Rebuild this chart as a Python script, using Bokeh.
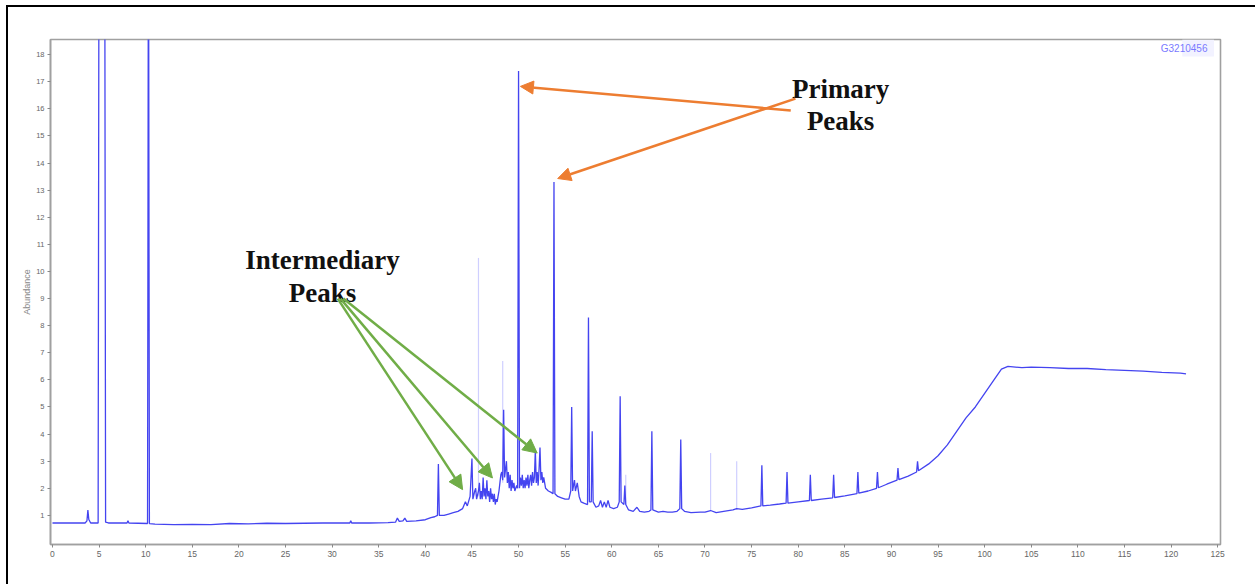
from bokeh.plotting import figure
from bokeh.models import Range1d, Label, Arrow, NormalHead, BoxAnnotation, FixedTicker
from bokeh.embed import file_html
from bokeh.resources import INLINE

# ---- data: (retention time, abundance) ----
early = [(0, 0.72), (3.5, 0.72), (3.7, 0.8), (3.8, 1.2), (3.9, 0.85), (4.1, 0.72), (4.9, 0.72),
         (5.0, 25), (5.6, 25), (5.7, 0.75), (6.0, 0.72), (8.0, 0.72), (8.1, 0.8), (8.2, 0.72),
         (10.2, 0.7), (10.3, 25), (10.4, 0.7), (11, 0.68), (13, 0.66), (15, 0.67), (17, 0.66),
         (19, 0.7), (21, 0.69), (23, 0.71), (25, 0.7), (27, 0.71), (29, 0.72), (31, 0.72),
         (31.9, 0.72), (32.0, 0.8), (32.1, 0.72), (34, 0.72), (36, 0.73), (36.8, 0.75),
         (37.0, 0.9), (37.2, 0.78), (37.6, 0.8), (37.8, 0.9), (38.0, 0.78), (39, 0.8), (40, 0.84)]

cluster = [(40.6, 0.92), (41.0, 0.95), (41.3, 1.0), (41.4, 2.9), (41.5, 1.0), (42, 1.0), (42.5, 1.05),
           (43, 1.1), (43.5, 1.15), (44, 1.25), (44.3, 1.5), (44.5, 1.35), (44.8, 1.7), (45.0, 3.1),
           (45.1, 1.6), (45.3, 1.9), (45.4, 2.0), (45.5, 1.6), (45.7, 1.9), (45.8, 2.2), (45.9, 1.6),
           (46.0, 1.9), (46.1, 1.6), (46.2, 2.4), (46.3, 1.7), (46.4, 2.0), (46.5, 1.6), (46.6, 2.3),
           (46.7, 1.7), (46.8, 1.9), (46.9, 1.5), (47.0, 2.0), (47.1, 1.6), (47.2, 1.8), (47.3, 1.5),
           (47.4, 1.8), (47.5, 1.4), (47.6, 1.6), (47.7, 1.5), (47.8, 1.7), (47.9, 1.9), (48.0, 2.2),
           (48.1, 2.5), (48.2, 2.6), (48.3, 2.3), (48.4, 4.9), (48.5, 2.4), (48.6, 2.7), (48.7, 3.0),
           (48.8, 2.2), (48.9, 2.6), (49.0, 2.0), (49.1, 2.5), (49.2, 1.9), (49.3, 2.3), (49.4, 2.0),
           (49.5, 2.2), (49.6, 1.9), (49.8, 2.1), (49.9, 2.0), (50.0, 17.4), (50.1, 2.0), (50.2, 2.4),
           (50.3, 2.1), (50.4, 2.5), (50.5, 2.0), (50.6, 2.3), (50.7, 2.0), (50.8, 2.4), (50.9, 2.1),
           (51.0, 2.5), (51.1, 2.0), (51.2, 2.3), (51.3, 2.5), (51.4, 2.1), (51.5, 2.6), (51.6, 2.2),
           (51.7, 2.4), (51.8, 3.4), (51.9, 2.2), (52.0, 2.6), (52.1, 2.1), (52.2, 2.7), (52.3, 3.5),
           (52.4, 2.3), (52.5, 2.6), (52.6, 2.2), (52.7, 2.4), (52.9, 2.0), (53.2, 1.9), (53.5, 1.85),
           (53.7, 1.8), (53.8, 13.3), (53.9, 1.8)]

mid = [(54.2, 1.7), (54.6, 1.65), (55.0, 1.6), (55.4, 1.6), (55.6, 1.9), (55.7, 5.0), (55.8, 1.9),
       (56.0, 2.3), (56.1, 1.9), (56.3, 2.2), (56.5, 1.7), (56.7, 1.5), (57.0, 1.45), (57.4, 1.4),
       (57.5, 8.3), (57.6, 1.5), (57.8, 1.5), (57.9, 4.1), (58.0, 1.5), (58.3, 1.3), (58.6, 1.35),
       (58.8, 1.55), (59.0, 1.3), (59.2, 1.5), (59.4, 1.3), (59.6, 1.55), (59.8, 1.3), (60.2, 1.25),
       (60.6, 1.3), (60.8, 1.5), (60.9, 5.4), (61.0, 1.5), (61.3, 1.4), (61.4, 2.1), (61.5, 1.4),
       (61.8, 1.2), (62.3, 1.15), (62.7, 1.3), (63.0, 1.15), (63.5, 1.12), (64.0, 1.15), (64.2, 1.2),
       (64.3, 4.1), (64.4, 1.2), (65.0, 1.12), (65.5, 1.15), (66.0, 1.12), (66.5, 1.12), (67.0, 1.15),
       (67.3, 1.25), (67.4, 3.8), (67.5, 1.25), (67.8, 1.15), (68.5, 1.1), (69.5, 1.12), (70.0, 1.12),
       (70.6, 1.18), (71.2, 1.1), (72.0, 1.15), (73.0, 1.2), (73.4, 1.25), (74.0, 1.22), (75.0, 1.28),
       (76.0, 1.35), (76.1, 2.85), (76.2, 1.35), (77.0, 1.38), (78.0, 1.42), (78.7, 1.45), (78.8, 2.6),
       (78.9, 1.45), (80.0, 1.5), (81.2, 1.55), (81.3, 2.5), (81.4, 1.55), (82.5, 1.6), (83.7, 1.65),
       (83.8, 2.5), (83.9, 1.66), (85.0, 1.72), (86.3, 1.8), (86.4, 2.6), (86.5, 1.82), (87.5, 1.9),
       (88.4, 2.0), (88.5, 2.6), (88.6, 2.02), (89.5, 2.15), (90.6, 2.3), (90.7, 2.75), (90.8, 2.32),
       (91.8, 2.45), (92.7, 2.6), (92.8, 3.0), (92.9, 2.65)]

late = [(94, 2.9), (95, 3.2), (96, 3.6), (97, 4.1), (98, 4.6), (99, 5.0), (100, 5.5), (101, 6.0),
        (101.8, 6.4), (102.5, 6.5), (104, 6.45), (105, 6.47), (107, 6.45), (109, 6.42), (111, 6.42),
        (113, 6.38), (115, 6.35), (117, 6.32), (119, 6.28), (121, 6.25), (121.6, 6.22)]

# faint (ghost) peaks
faint_time = [45.7, 48.3, 61.5, 70.6, 73.4]
faint_top = [10.5, 6.7, 2.5, 3.3, 3.0]
faint_base = [1.7, 2.2, 1.4, 1.15, 1.2]

x_ticks = list(range(0, 126, 5))
y_ticks = list(range(1, 19))

trace = early + cluster + mid + late
time = [t for t, _ in trace]
abundance = [a for _, a in trace]

W, H = 1255, 584
frame_css = ("linear-gradient(#000,#000) 6px 5px / 2px 600px no-repeat, "
             "linear-gradient(#000,#000) 6px 5px / 1260px 2px no-repeat, #ffffff")
p = figure(width=W, height=H, output_backend="svg", toolbar_location=None,
           x_range=Range1d(-0.21, 125.3), y_range=Range1d(-0.074, 18.56),
           min_border_left=50, min_border_right=35, min_border_top=39, min_border_bottom=40,
           styles={"background": frame_css})
p.background_fill_color = "white"
p.border_fill_alpha = 0
p.xgrid.visible = False
p.ygrid.visible = False
p.outline_line_color = "#a0a0a0"
p.outline_line_width = 1.6

for ax in (p.xaxis[0], p.yaxis[0]):
    ax.axis_line_color = "#a0a0a0"
    ax.axis_line_width = 1.6
    ax.major_tick_line_color = "#888888"
    ax.minor_tick_line_color = None
    ax.major_tick_out = 3
    ax.major_tick_in = 0
    ax.major_label_text_color = "#666666"
    ax.major_label_text_font = "Liberation Sans"
    ax.major_label_standoff = 3

p.xaxis.ticker = FixedTicker(ticks=x_ticks)
p.yaxis.ticker = FixedTicker(ticks=y_ticks)
p.xaxis.major_label_text_font_size = "8.5px"
p.yaxis.major_label_text_font_size = "7.5px"
p.yaxis.axis_label = "Abundance"
p.yaxis.axis_label_text_font = "Liberation Sans"
p.yaxis.axis_label_text_font_style = "normal"
p.yaxis.axis_label_text_font_size = "9px"
p.yaxis.axis_label_text_color = "#888888"
p.yaxis.axis_label_standoff = 1

# chromatogram trace
p.segment(x0=faint_time, y0=faint_base, x1=faint_time, y1=faint_top, line_color="#cfcfff", line_width=1.2)
p.line(time, abundance, line_color="#4444f0", line_width=1.3)

# sample id tag
p.add_layout(BoxAnnotation(left=121.2, right=124.6, bottom=17.93, top=18.56,
                           fill_color="#f2f2ff", fill_alpha=1, line_alpha=0))
p.add_layout(Label(x=123.9, y=18.23, text="G3210456", text_align="right", text_baseline="middle",
                   text_font="Liberation Sans", text_font_size="10px", text_color="#7a7aff"))

# axis title "Time"
p.add_layout(Label(x=125.0, y=-0.96, text="Time", text_align="right", text_baseline="middle",
                   text_font="Liberation Sans", text_font_size="9px", text_color="#888888"))

# annotations
serif = "Liberation Serif"
for txt, x, y in [("Primary", 84.55, 16.75), ("Peaks", 84.55, 15.57),
                  ("Intermediary", 28.97, 10.44), ("Peaks", 28.97, 9.19)]:
    p.add_layout(Label(x=x, y=y, text=txt, text_align="center", text_baseline="alphabetic",
                       text_font=serif, text_font_size="27px", text_font_style="bold",
                       text_color="#111111"))

orange = "#ED7D31"
for (x0, y0, x1, y1) in [(79.2, 15.94, 50.2, 16.83), (79.7, 16.38, 54.2, 13.43)]:
    p.add_layout(Arrow(x_start=x0, y_start=y0, x_end=x1, y_end=y1, line_color=orange, line_width=2.5,
                       end=NormalHead(size=13, fill_color=orange, line_color=orange)))

green = "#70AD47"
for (x0, y0, x1, y1) in [(30.6, 9.0, 44.0, 1.95), (30.9, 9.0, 47.2, 2.38), (31.2, 9.0, 52.0, 3.3)]:
    p.add_layout(Arrow(x_start=x0, y_start=y0, x_end=x1, y_end=y1, line_color=green, line_width=2.5,
                       end=NormalHead(size=14, fill_color=green, line_color=green)))

open("out.html", "w").write(file_html(p, INLINE))
